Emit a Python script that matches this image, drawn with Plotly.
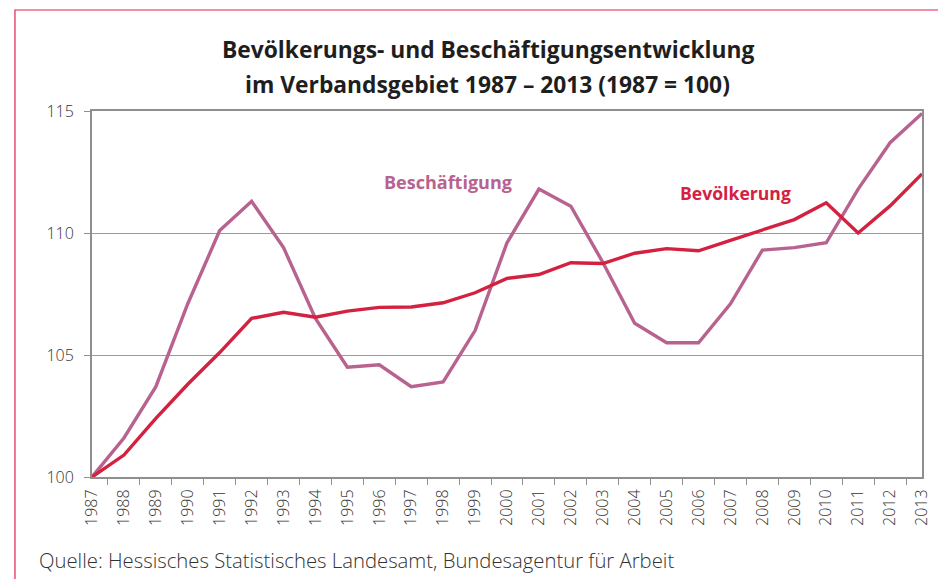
import plotly.graph_objects as go

years = [str(y) for y in range(1987, 2014)]
beschaeftigung = [100.0, 101.6, 103.7, 107.1, 110.1, 111.3, 109.4, 106.5, 104.5, 104.6,
                  103.7, 103.9, 106.0, 109.6, 111.8, 111.1, 108.8, 106.3, 105.5, 105.5,
                  107.1, 109.3, 109.4, 109.6, 111.8, 113.7, 114.9]
bevoelkerung = [100.0, 100.9, 102.4, 103.8, 105.1, 106.5, 106.75, 106.55, 106.8, 106.95,
                106.97, 107.14, 107.55, 108.14, 108.3, 108.78, 108.75, 109.17, 109.36, 109.27,
                109.7, 110.12, 110.55, 111.24, 110.0, 111.11, 112.42]
y_ticks = [100, 105, 110, 115]

c_besch = "#b8628f"
c_bev = "#d3213f"
axis_gray = "#8e8e8e"
font_main = "Open Sans"

fig = go.Figure()
fig.add_trace(go.Scatter(x=years, y=beschaeftigung, mode="lines", name="Beschäftigung",
                         line=dict(color=c_besch, width=3.4)))
fig.add_trace(go.Scatter(x=years, y=bevoelkerung, mode="lines", name="Bevölkerung",
                         line=dict(color=c_bev, width=3.4)))

fig.update_layout(
    width=946, height=579,
    margin=dict(l=84, r=32, t=103, b=110),
    paper_bgcolor="white", plot_bgcolor="white",
    showlegend=False,
    font=dict(family=font_main, color="#333333"),
    xaxis=dict(type="category", tickangle=-90, tickson="boundaries",
               ticks="outside", ticklen=6, tickcolor=axis_gray, tickwidth=1.2,
               showline=True, linecolor=axis_gray, linewidth=2, mirror=True,
               ticklabelstandoff=4,
               showgrid=False, tickfont=dict(size=16, family=font_main, weight=300, color="#333333")),
    yaxis=dict(range=[100, 115], tickvals=y_ticks, ticks="outside", ticklen=6,
               tickcolor=axis_gray, tickwidth=1.2, ticklabelstandoff=7,
               showline=True, linecolor=axis_gray, linewidth=2, mirror=True,
               showgrid=True, gridcolor="#9a9a9a", gridwidth=1.2, zeroline=False,
               tickfont=dict(size=16, family=font_main, weight=300, color="#333333")),
)

annotations = [
    dict(text="<b>Bevölkerungs- und Beschäftigungsentwicklung</b>", x=0.477, y=(477 - 50) / 366,
         xref="paper", yref="paper", yanchor="middle", showarrow=False,
         font=dict(size=22.8, color="#1e1e1e")),
    dict(text="<b>im Verbandsgebiet 1987 – 2013 (1987 = 100)</b>", x=0.477, y=(477 - 84) / 366,
         xref="paper", yref="paper", yanchor="middle", showarrow=False,
         font=dict(size=22.8, color="#1e1e1e")),
    dict(text="<b>Beschäftigung</b>", x=11.15, y=112.1, xref="x", yref="y",
         showarrow=False, font=dict(size=18, color=c_besch)),
    dict(text="<b>Bevölkerung</b>", x=20.17, y=111.65, xref="x", yref="y",
         showarrow=False, font=dict(size=17.6, color=c_bev)),
    dict(text="Quelle: Hessisches Statistisches Landesamt, Bundesagentur für Arbeit",
         x=-0.0663, y=-0.2268, xref="paper", yref="paper", xanchor="left", yanchor="middle",
         showarrow=False, font=dict(size=20.3, weight=300, color="#333333")),
]
fig.update_layout(annotations=annotations)

fig.add_shape(type="rect", xref="paper", yref="paper", x0=-0.0928, x1=1.2, y0=-0.5, y1=1.276,
              line=dict(color="#e3204a", width=1.2), fillcolor="rgba(0,0,0,0)", layer="above")

fig.write_html("out.html")
